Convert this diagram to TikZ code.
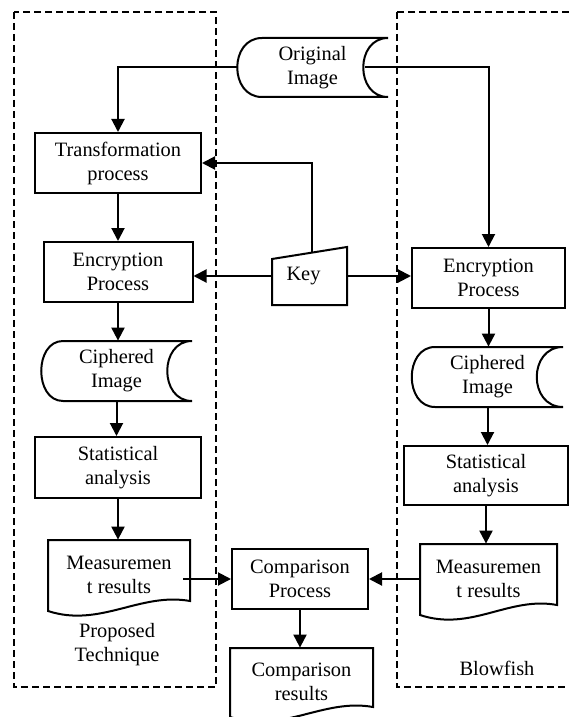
\documentclass[tikz,border=0pt]{standalone}
\usepackage{fontspec}
\setmainfont{Liberation Serif}
\usetikzlibrary{arrows.meta, positioning}
\tikzstyle{process} = [rectangle, draw, line width=1pt, align=center, minimum height=30pt]
\tikzstyle{plain} = [rectangle, align=center, inner sep=0pt]
\tikzstyle{outline} = [line width=1pt]
\tikzstyle{arrow} = [line width=1pt, -{Triangle[length=6.5pt,width=6.5pt]}]
\tikzstyle{group} = [line width=1pt, dash pattern=on 3.5pt off 2pt]

\begin{document}
\begin{tikzpicture}[x=0.5pt, y=-0.5pt, font=\fontsize{10.2}{12}\selectfont]
\useasboundingbox (0,0) rectangle (568,717);

% dashed groups
\draw[group] (14,12) rectangle (216,687);
\draw[group] (397,12) rectangle (600,687);

% input
\node[plain, minimum width=75.5pt, minimum height=29.5pt] (orig) at (312.5,67.5) {Original\\Image};
\draw[outline] (388,38) -- (262,38) .. controls (229,38) and (229,97) .. (262,97) -- (388,97) .. controls (355,97) and (355,38) .. (388,38);

% proposed technique
\node[process, minimum width=83pt] (trans) at (118,163) {Transformation\\process};
\node[process, minimum width=74.5pt] (encL) at (118,272) {Encryption\\Process};
\node[plain, minimum width=75.5pt, minimum height=30pt] (cipL) at (116.5,371) {Ciphered\\Image};
\draw[outline] (192,341) -- (63,341) .. controls (34,341) and (34,401) .. (63,401) -- (192,401) .. controls (159,401) and (159,341) .. (192,341);
\node[process, minimum width=83pt, minimum height=30.5pt] (statL) at (118,467.5) {Statistical\\analysis};
\node[plain, minimum width=71pt, minimum height=35pt] (measL) at (119,575) {Measuremen\\t results};
\draw[outline] (48,540) -- (190,540) -- (190,601) .. controls (140,592) and (100,628) .. (48,611) -- cycle;
\node[plain] (prop) at (117,645) {Proposed\\Technique};

% key
\node[plain, minimum width=37.5pt, minimum height=29pt] (key) at (309.5,276) {Key\hspace*{6pt}};
\draw[outline] (272,259) -- (347,247) -- (347,305) -- (272,305) -- cycle;
\coordinate (keytop) at (312,252);

% blowfish
\node[process, minimum width=76.5pt] (encR) at (488.5,278) {Encryption\\Process};
\node[plain, minimum width=75.5pt, minimum height=30pt] (cipR) at (487.5,377) {Ciphered\\Image};
\draw[outline] (563,347) -- (435,347) .. controls (404,347) and (404,407) .. (435,407) -- (563,407) .. controls (528,407) and (528,347) .. (563,347);
\node[process, minimum width=82pt, minimum height=29.5pt] (statR) at (486,475.5) {Statistical\\analysis};
\node[plain, minimum width=68.5pt, minimum height=35pt] (measR) at (488.5,579) {Measuremen\\t results};
\draw[outline] (420,544) -- (557,544) -- (557,605) .. controls (509,596) and (471,632) .. (420,615) -- cycle;
\node[plain] (blow) at (497,668) {Blowfish};

% comparison
\node[process, minimum width=68pt] (comp) at (300,579) {Comparison\\Process};
\node[plain, minimum width=71.5pt, minimum height=34pt] (compres) at (301.5,682) {Comparison\\results};
\draw[outline] (230,648) -- (373,648) -- (373,707) .. controls (323,698) and (283,734) .. (230,717) -- cycle;

% connectors
\draw[arrow] (orig.west) -| (trans.north);
\draw[arrow] ([xshift=-11.5pt]orig.east) -| (encR.north);
\draw[arrow] (trans.south) -- (trans.south |- encL.north);
\draw[arrow] (encL.south) -- (encL.south |- cipL.north);
\draw[arrow] (cipL.south) -- (cipL.south |- statL.north);
\draw[arrow] (statL.south) -- (statL.south |- measL.north);
\draw[arrow] (keytop) |- (trans.east);
\draw[arrow] (key.west) -- (key.west -| encL.east);
\draw[arrow] (key.east) -- (key.east -| encR.west);
\draw[arrow] (encR.south) -- (encR.south |- cipR.north);
\draw[arrow] (cipR.south) -- (cipR.south |- statR.north);
\draw[arrow] (statR.south) -- (statR.south |- measR.north);
\draw[arrow] ([xshift=-3.5pt]measL.east |- comp.west) -- (comp.west);
\draw[arrow] (measR.west |- comp.east) -- (comp.east);
\draw[arrow] (comp.south) -- (comp.south |- compres.north);
\end{tikzpicture}
\end{document}
